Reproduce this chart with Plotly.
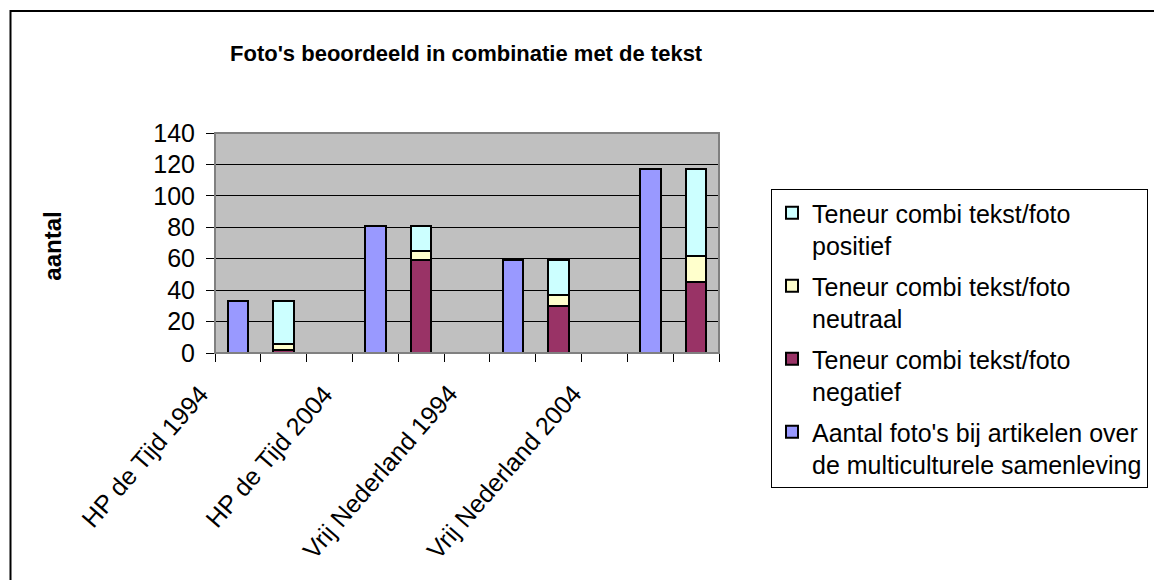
import plotly.graph_objects as go

# ---- data ----
publications = ["HP de Tijd 1994", "HP de Tijd 2004", "Vrij Nederland 1994", "Vrij Nederland 2004"]
aantal_fotos = [33, 81, 59, 117]
negatief = [2, 59, 30, 45]
neutraal = [4, 6, 7, 17]
positief = [27, 16, 22, 55]

series_names = [
    "Aantal foto's bij artikelen over<br>de multiculturele samenleving",
    "Teneur combi tekst/foto<br>negatief",
    "Teneur combi tekst/foto<br>neutraal",
    "Teneur combi tekst/foto<br>positief",
]
colors = ["#9999FF", "#993366", "#FFFFCC", "#CCFFFF"]

# category slots: each publication has a "total" slot, a "stacked" slot and an empty slot
n_slots = 3 * len(publications) - 1
total_x = [3 * i for i in range(len(publications))]
stack_x = [3 * i + 1 for i in range(len(publications))]
# where the end of each rotated publication label sits along the axis, in slot units
label_pos = [-0.46 + 2.71 * i for i in range(len(publications))]

FONT = "Liberation Sans, Arial, sans-serif"
W, H = 1154, 580
L, R, T, B = 215, 435, 133, 227
pw, ph = W - L - R, H - T - B


def px(x):
    return (x - L) / pw


def py(y):
    return (H - B - y) / ph


fig = go.Figure()
bar_w = 0.45
ranks = [4, 3, 2, 1]
fig.add_trace(go.Bar(x=total_x, y=aantal_fotos, name=series_names[0], width=bar_w,
                     legendgroup="a", legendrank=ranks[0],
                     marker=dict(color=colors[0], line=dict(color="black", width=2))))
for name, vals, col, grp, rk in zip(series_names[1:], [negatief, neutraal, positief],
                                    colors[1:], ["b", "c", "d"], ranks[1:]):
    fig.add_trace(go.Bar(x=stack_x, y=vals, name=name, width=bar_w, legendgroup=grp,
                         legendrank=rk,
                         marker=dict(color=col, line=dict(color="black", width=2))))

label_annotations = [
    dict(text=lab, xref="x domain", yref="y domain",
         x=(pos + 0.5) / n_slots, y=py(377),
         xanchor="right", yanchor="top", textangle=-49, showarrow=False,
         font=dict(family=FONT, size=25))
    for lab, pos in zip(publications, label_pos)
]

fig.update_layout(
    width=W, height=H,
    margin=dict(l=L, r=R, t=T, b=B, pad=0, autoexpand=False),
    barmode="stack",
    paper_bgcolor="white",
    plot_bgcolor="#C0C0C0",
    font=dict(family=FONT, size=25, color="black"),
    showlegend=True,
    legend=dict(
        x=px(771), y=py(189), xanchor="left", yanchor="top",
        bgcolor="white", bordercolor="black", borderwidth=1,
        font=dict(family=FONT, size=25, color="black"),
        traceorder="grouped", tracegroupgap=5, valign="top",
        maxheight=400,
    ),
    xaxis=dict(
        range=[-0.5, n_slots - 0.5],
        showticklabels=False, ticks="", showgrid=False, zeroline=False,
        showline=True, linecolor="black", linewidth=1,
        minor=dict(tickmode="linear", tick0=0.5, dtick=1, ticks="outside",
                   ticklen=8, tickcolor="black", tickwidth=1, showgrid=False),
    ),
    yaxis=dict(
        range=[0, 140], tickmode="linear", tick0=0, dtick=20,
        ticks="outside", ticklen=8, tickcolor="black", tickwidth=1,
        showgrid=True, gridcolor="black", gridwidth=1,
        zeroline=False, showline=False,
        tickfont=dict(family=FONT, size=25),
        ticklabelstandoff=6,
    ),
    shapes=[
        # plot area border
        dict(type="rect", xref="paper", yref="paper", x0=0, y0=0, x1=1, y1=1,
             line=dict(color="#808080", width=2), layer="above"),
        # chart area border (cropped at the right and bottom in the picture)
        dict(type="rect", xref="paper", yref="paper",
             x0=px(10.5), y0=py(640), x1=px(1220), y1=py(11),
             line=dict(color="black", width=2)),
    ],
    annotations=[
        dict(text="<b>Foto's beoordeeld in combinatie met de tekst</b>",
             xref="paper", yref="paper", x=px(466.7), y=py(53),
             xanchor="center", yanchor="middle", showarrow=False,
             font=dict(family=FONT, size=22)),
        dict(text="<b>aantal</b>", xref="paper", yref="paper",
             x=px(53), y=py(246.7), xanchor="center", yanchor="middle",
             textangle=-90, showarrow=False, font=dict(family=FONT, size=24)),
    ] + label_annotations,
)

fig.write_html("out.html", post_script="document.body.style.margin='0px';",
               config={"displayModeBar": False})
